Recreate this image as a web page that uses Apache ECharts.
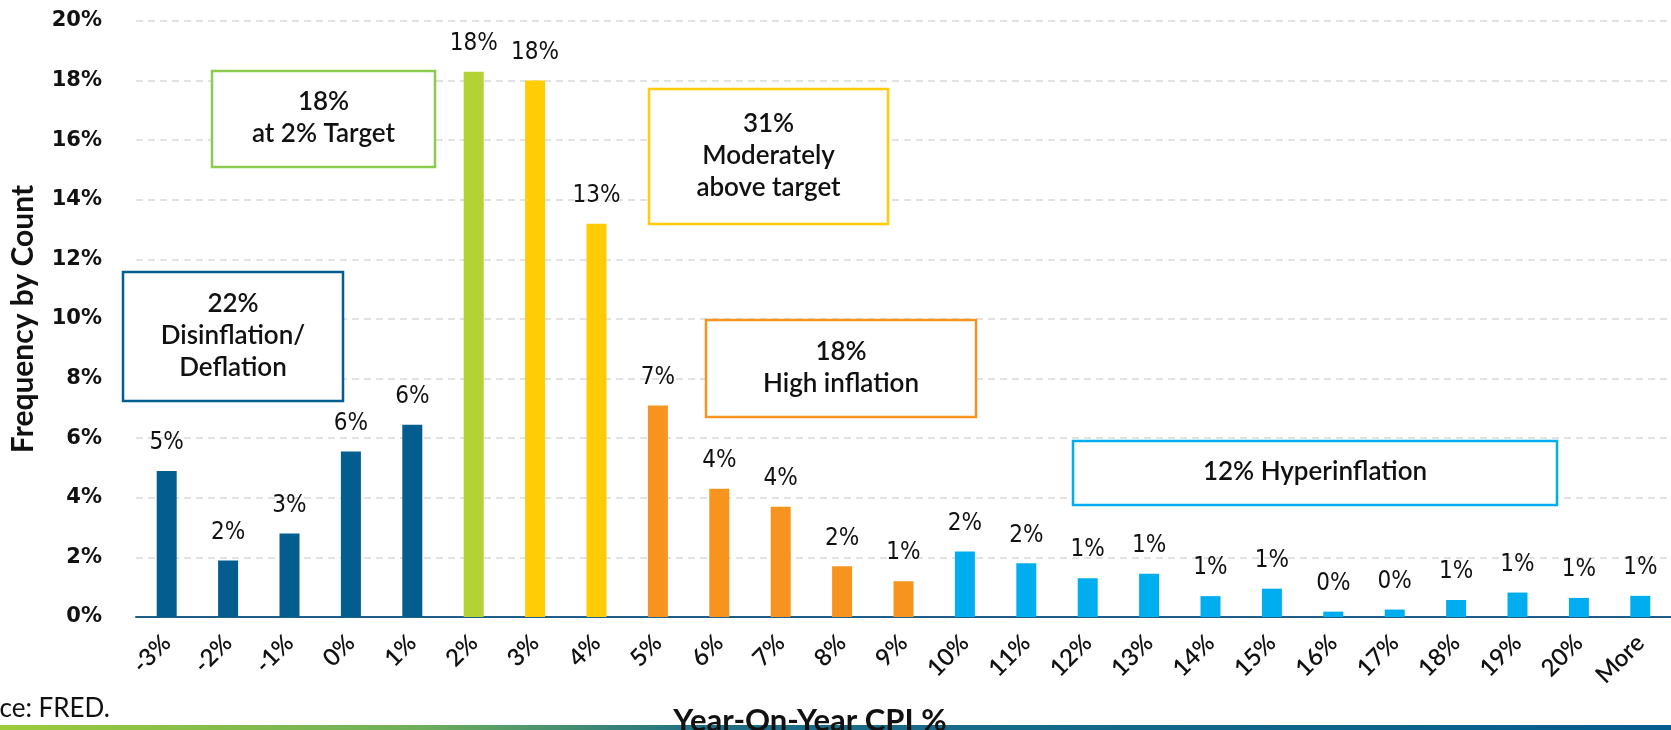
<!DOCTYPE html>
<html><head><meta charset="utf-8">
<script src="https://cdn.jsdelivr.net/npm/echarts@6/dist/echarts.min.js"></script>
<style>html,body{margin:0;padding:0;background:#fff;overflow:hidden}#c{width:1671px;height:730px}</style>
</head><body><div id="c"></div>
<script>
const categories = ['-3%','-2%','-1%','0%','1%','2%','3%','4%','5%','6%','7%','8%','9%','10%','11%','12%','13%','14%','15%','16%','17%','18%','19%','20%','More'];
const frequency = [4.9,1.9,2.8,5.55,6.45,18.3,18.0,13.2,7.1,4.3,3.7,1.7,1.2,2.2,1.8,1.3,1.45,0.7,0.95,0.18,0.25,0.57,0.82,0.64,0.71];
const regime = ['defl','defl','defl','defl','defl','target','moderate','moderate','high','high','high','high','high',
  'hyper','hyper','hyper','hyper','hyper','hyper','hyper','hyper','hyper','hyper','hyper','hyper'];
const yTicks = [0,2,4,6,8,10,12,14,16,18,20];
const annotations = [
  {regime:'target', lines:['18%','at 2% Target']},
  {regime:'moderate', lines:['31%','Moderately','above target']},
  {regime:'defl', lines:['22%','Disinflation/','Deflation']},
  {regime:'high', lines:['18%','High inflation']},
  {regime:'hyper', lines:['12% Hyperinflation']}
];

const FONT = 'Lato, "Open Sans", sans-serif';
const NARROW = '"Liberation Sans Narrow", "DejaVu Sans Condensed", Lato, sans-serif';
const colorOf = {defl:'#035E8F', target:'#B3D334', moderate:'#FFCC05', high:'#F7941F', hyper:'#00AEEF'};
const borderOf = {defl:'#035E8F', target:'#8DCB4E', moderate:'#FFCC05', high:'#F7941F', hyper:'#00AEEF'};
const boxGeom = {
  target:  {x:212, y:71, w:223, h:96},
  moderate:{x:649, y:89, w:239, h:135},
  defl:    {x:123, y:272, w:220, h:129},
  high:    {x:706, y:320, w:270, h:97},
  hyper:   {x:1073, y:441, w:484, h:64}
};

const chart = echarts.init(document.getElementById('c'), null, {renderer:'canvas'});

// measure the part of "Source: FRED." that is cut off at the left edge
const mctx = document.createElement('canvas').getContext('2d');
mctx.font = '400 26px ' + FONT;
const hiddenW = mctx.measureText('Sour').width;

const graphics = [];
annotations.forEach(a => {
  const g = boxGeom[a.regime];
  graphics.push({
    type:'rect', shape:{x:g.x, y:g.y, width:g.w, height:g.h},
    style:{fill:'#fff', stroke:borderOf[a.regime], lineWidth:2.5}, z:10
  });
  graphics.push({
    type:'text', x:g.x + g.w/2, y:g.y + g.h/2 - 1, z:11,
    style:{text:a.lines.join('\n'), textAlign:'center', textVerticalAlign:'middle',
      font:'600 26px ' + FONT, lineHeight:32, fill:'#111'}
  });
});
graphics.push({
  type:'rect', shape:{x:0, y:725, width:1671, height:5}, z:5,
  style:{fill:new echarts.graphic.LinearGradient(0,0,1,0,[
    {offset:0, color:'#9CCB3B'},{offset:0.25, color:'#6FAF5A'},{offset:0.42, color:'#1F6F86'},{offset:1, color:'#035E8F'}])}
});
graphics.push({
  type:'text', x:-hiddenW, y:709, z:6,
  style:{text:'Source: FRED.', textVerticalAlign:'middle', font:'400 26px ' + FONT, fill:'#111'}
});
graphics.push({
  type:'text', x:810, y:721, z:12,
  style:{text:'Year-On-Year CPI %', textAlign:'center', textVerticalAlign:'middle', font:'700 31px ' + FONT, fill:'#111'}
});

chart.setOption({
  animation:false,
  backgroundColor:'#fff',
  grid:{left:128, top:21, width:1550, height:596, containLabel:false},
  xAxis:{
    type:'category', data:categories,
    axisLine:{lineStyle:{color:'#1D5F8A', width:2}},
    axisTick:{show:false},
    axisLabel:{rotate:45, margin:22, fontSize:24, color:'#111', fontFamily:FONT, fontWeight:600, interval:0}
  },
  yAxis:{
    type:'value', min:yTicks[0], max:yTicks[yTicks.length-1], interval:2,
    name:'Frequency by Count', nameLocation:'middle', nameGap:98,
    nameTextStyle:{fontSize:30, fontWeight:'bold', color:'#111', fontFamily:FONT},
    axisLine:{show:false}, axisTick:{show:false},
    axisLabel:{formatter:v => v + '%', fontSize:21, fontWeight:'bold', color:'#111', fontFamily:'"DejaVu Sans", sans-serif', margin:34},
    splitLine:{lineStyle:{type:[7,5], color:'#D9D9D9', width:1.5}}
  },
  series:[{
    type:'bar', barWidth:20,
    data:frequency.map((v,i) => ({value:v, itemStyle:{color:colorOf[regime[i]]}})),
    label:{show:true, position:'top', distance:16, formatter:p => Math.round(p.value) + '%',
      fontSize:24, color:'#111', fontFamily:NARROW, fontWeight:'normal'}
  }],
  graphic:graphics
});
</script></body></html>
